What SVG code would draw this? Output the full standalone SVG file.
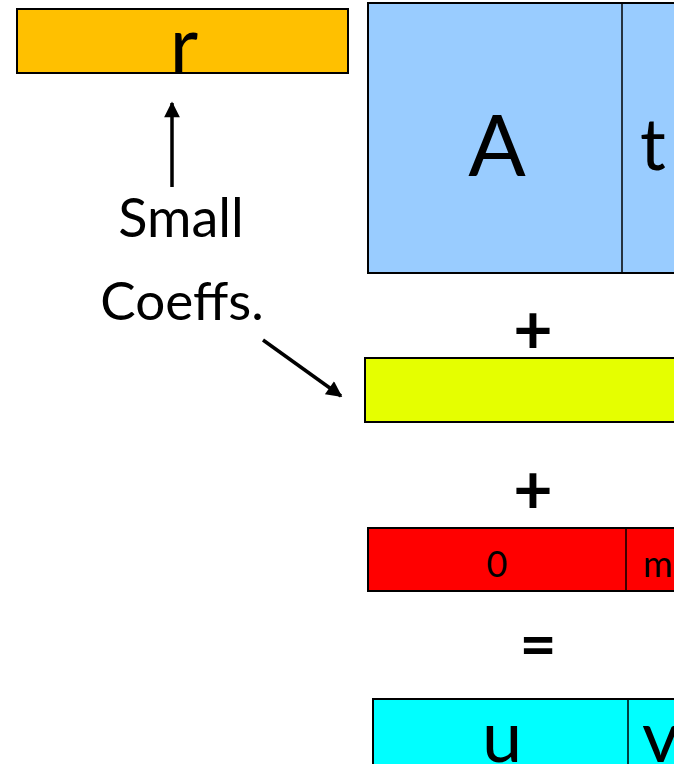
<svg xmlns="http://www.w3.org/2000/svg" width="674" height="764" viewBox="0 0 674 764">
<style>
.box{stroke:#000;stroke-width:2}
.div{stroke:#000;stroke-width:1.5}
.t{font-family:Lato,"Open Sans",sans-serif;fill:#000;text-anchor:middle}
.op{font-weight:700}
.arr{stroke:#000;stroke-width:3.5;fill:none;marker-end:url(#ah)}
</style>
<defs>
<marker id="ah" viewBox="0 0 10 10" refX="9" refY="5" markerWidth="5" markerHeight="4.5" orient="auto" markerUnits="strokeWidth">
<path d="M0,0 L10,5 L0,10 z" fill="#000"/>
</marker>
</defs>
<rect width="674" height="764" fill="#fff"/>
<g id="r">
<rect class="box" x="17" y="9" width="331" height="64" fill="#FFC000"/>
<text class="t" x="184" y="72" font-size="78">r</text>
</g>
<g id="At">
<rect class="box" x="368" y="3" width="310" height="270" fill="#99CCFF"/>
<line class="div" x1="622" y1="3" x2="622" y2="273"/>
<text class="t" x="497" y="176" font-size="85">A</text>
<text class="t" x="653" y="170" font-size="72">t</text>
</g>
<g id="label">
<text class="t" x="181" y="237" font-size="54">Small</text>
<text class="t" x="182" y="320" font-size="53">Coeffs.</text>
</g>
<g id="e">
<rect class="box" x="365" y="358" width="313" height="64" fill="#E5FF00"/>
</g>
<g id="m">
<rect class="box" x="368" y="528" width="310" height="63" fill="#FF0000"/>
<line class="div" x1="626" y1="528" x2="626" y2="591"/>
<text class="t" x="497" y="577" font-size="36">0</text>
<text class="t" x="643" y="577" font-size="36" style="text-anchor:start">m</text>
</g>
<g id="uv">
<rect class="box" x="373" y="699" width="305" height="80" fill="#00FFFF"/>
<line class="div" x1="628" y1="699" x2="628" y2="779"/>
<text class="t" x="502" y="762" font-size="72">u</text>
<text class="t" x="642" y="762" font-size="72" style="text-anchor:start">v</text>
</g>
<g id="ops">
<text class="t op" x="533" y="354" font-size="68">+</text>
<text class="t op" x="533" y="514" font-size="68">+</text>
<text class="t op" x="538" y="667" font-size="64">=</text>
</g>
<g id="connectors">
<line class="arr" x1="172" y1="187" x2="172" y2="103"/>
<line class="arr" x1="263" y1="340" x2="341" y2="396"/>
</g>
</svg>
